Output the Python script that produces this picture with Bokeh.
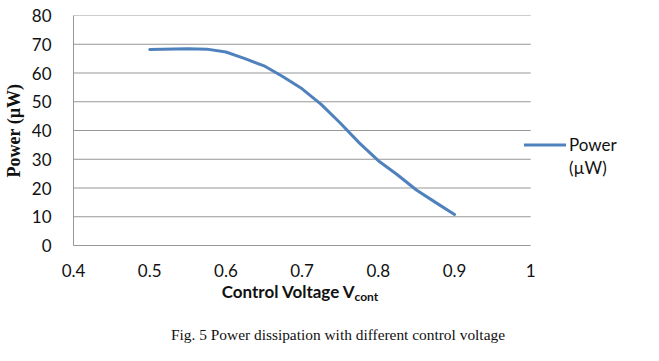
from bokeh.plotting import figure
from bokeh.models import Legend, LegendItem, Range1d, FixedTicker, Div
from bokeh.layouts import column
from bokeh.embed import file_html
from bokeh.resources import INLINE

# Data
voltage = [0.50, 0.55, 0.575, 0.60, 0.625, 0.65, 0.675, 0.70, 0.725, 0.75,
           0.775, 0.80, 0.825, 0.85, 0.875, 0.90]
power_uw = [68.2, 68.4, 68.3, 67.3, 65.0, 62.5, 58.7, 54.5, 49.1, 42.6,
            35.7, 29.5, 24.6, 19.3, 15.0, 10.8]

x_ticks = [0.4, 0.5, 0.6, 0.7, 0.8, 0.9, 1.0]
x_tick_labels = ["0.4", "0.5", "0.6", "0.7", "0.8", "0.9", "1"]
y_ticks = [0, 10, 20, 30, 40, 50, 60, 70, 80]

TICK_FONT = "Lato"
GRID = "#979797"
LINE = "#4F81BD"
TXT = "#111111"

# layout (pixels)
W = 659
TOP_H = 285
LEFT = 72
TOP = 15
AXIS_BOTTOM = 245
X_END_PX = 530                      # pixel where x = 1.0 sits
px_per_unit = (X_END_PX - LEFT) / (x_ticks[-1] - x_ticks[0])
x_frame_end = x_ticks[0] + (W - LEFT) / px_per_unit   # frame continues to the right edge for the legend

p = figure(width=W, height=TOP_H, output_backend="svg", toolbar_location=None,
           x_range=Range1d(x_ticks[0], x_frame_end), y_range=Range1d(y_ticks[0], y_ticks[-1]),
           min_border_left=LEFT, min_border_right=0, min_border_top=TOP,
           min_border_bottom=TOP_H - AXIS_BOTTOM)
p.outline_line_color = None

p.xaxis.ticker = FixedTicker(ticks=x_ticks)
p.xaxis.major_label_overrides = {t: l for t, l in zip(x_ticks, x_tick_labels)}
p.xaxis.bounds = (x_ticks[0], x_ticks[-1])
p.yaxis.ticker = FixedTicker(ticks=y_ticks)
for ax in (p.xaxis, p.yaxis):
    ax.major_tick_line_color = None
    ax.minor_tick_line_color = None
    ax.major_tick_out = 0
    ax.major_tick_in = 0
    ax.minor_tick_out = 0
    ax.minor_tick_in = 0
    ax.axis_line_color = GRID
    ax.major_label_text_font = TICK_FONT
    ax.major_label_text_font_size = "17px"
    ax.major_label_text_color = TXT
p.xaxis.major_label_standoff = 18
p.yaxis.major_label_standoff = 22

p.yaxis.axis_label = "Power (µW)"
p.yaxis.axis_label_text_font = "Liberation Serif"
p.yaxis.axis_label_text_font_style = "bold"
p.yaxis.axis_label_text_font_size = "18px"
p.yaxis.axis_label_text_color = TXT
p.yaxis.axis_label_standoff = 5

# horizontal grid lines, only over the 0.4..1 span
p.xgrid.visible = False
p.ygrid.visible = False
p.segment(x0=[x_ticks[0]] * len(y_ticks), x1=[x_ticks[-1]] * len(y_ticks),
          y0=y_ticks, y1=y_ticks, line_color=GRID, line_width=1)

r = p.line(voltage, power_uw, line_color=LINE, line_width=3, line_cap="round", line_join="round")
dummy = p.line(x=[], y=[], line_alpha=0)

legend = Legend(items=[LegendItem(label="Power", renderers=[r]),
                       LegendItem(label="(µW)", renderers=[dummy])],
                location=(523 - LEFT, 66), orientation="vertical",
                padding=0, margin=0, spacing=0, border_line_alpha=0, background_fill_alpha=0,
                glyph_width=42, glyph_height=23, label_height=23, label_standoff=3,
                label_text_font=TICK_FONT, label_text_font_size="17px",
                label_text_color=TXT)
p.add_layout(legend)

# lower strip: x axis title with subscript, and the figure caption
BOT_H = 361 - TOP_H
html = (
    f'<div style="position:relative;width:{W}px;height:{BOT_H}px;color:{TXT};">'
    f'<div style="position:absolute;left:0px;top:{292 - TOP_H - 10}px;width:600px;'
    f'text-align:center;line-height:20px;font-family:Lato;font-weight:bold;font-size:17px;'
    f'white-space:nowrap;">Control Voltage V<sub style="font-size:12px;vertical-align:-3px;">cont</sub></div>'
    f'<div style="position:absolute;left:38px;top:{335 - TOP_H - 10}px;width:600px;'
    f'text-align:center;line-height:20px;font-family:\'Liberation Serif\';font-size:15.4px;'
    f'white-space:nowrap;">Fig. 5 Power dissipation with different control voltage</div>'
    f'</div>'
)
caption = Div(text=html, width=W, height=BOT_H, margin=(0, 0, 0, 0))

open("out.html", "w").write(file_html(column(p, caption, spacing=0), INLINE))
